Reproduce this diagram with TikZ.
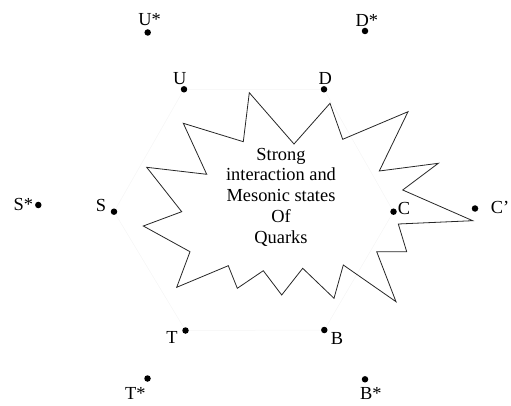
\documentclass[tikz,border=0pt]{standalone}
\usepackage{fontspec}
\setmainfont{Liberation Serif}
\usetikzlibrary{positioning}

\begin{document}
\begin{tikzpicture}[
    x=1pt, y=-1pt,
    font=\fontsize{18.4}{20.7}\selectfont,
    quark/.style={circle, fill=black, inner sep=0pt, minimum size=6.5pt},
    qlabel/.style={anchor=base, inner sep=0pt},
    burst/.style={draw=black!85, line width=0.8pt, line join=miter},
    guide/.style={draw=black!4, line width=0.5pt},
]
\useasboundingbox (0,0) rectangle (511,406);

% quark dots
\foreach \name/\x/\y in {Ustar/147.7/32.5, U/184/89.3, Dstar/365/31, D/324/89.3,
    Sstar/38.3/205, S/114/211.7, C/393.5/211.7, Cp/475/208.5,
    T/185.5/330.5, Tstar/147.5/378.5, B/324.3/330, Bstar/365/379.3} {
    \node[quark] (\name) at (\x,\y) {};
}

% faint inner hexagon
\draw[guide] (U) -- (D) -- (C) -- (B) -- (T) -- (S) -- (U);

% star burst
\draw[burst] (472.7,220.7) -- (398.3,224) -- (406.7,251.7) -- (376.7,251.7)
    -- (396,301.7) -- (343.3,265) -- (334,298.3) -- (302.7,268.3)
    -- (281.7,295) -- (263.3,270.7) -- (237.3,288.3) -- (228.3,265.7)
    -- (176.7,287.3) -- (190,251.7) -- (143.3,226) -- (181.7,211.7)
    -- (146.7,167.3) -- (206.7,174.3) -- (183.3,123.3) -- (243.3,141.7)
    -- (249.3,92.7) -- (294,144) -- (330,103.3) -- (342.7,139.3)
    -- (408,111.7) -- (379.3,171) -- (438.3,163.3) -- (402.7,190) -- cycle;

\node[align=center, inner sep=0pt] (core) at (281,197)
    {Strong\\interaction and\\Mesonic states\\Of\\Quarks};

% labels
\foreach \name/\x/\y/\txt in {lUstar/149.5/25.5/U*, lU/179.7/84.5/U,
    lDstar/366.8/26.5/D*, lD/325.3/84.5/D, lSstar/23.3/210.5/S*,
    lS/101/211.5/S, lC/404/214.5/C, lCp/500/213.5/C’, lT/172/343.5/T,
    lTstar/135.3/399.5/T*, lB/337/344.5/B, lBstar/370.8/399.5/B*} {
    \node[qlabel] (\name) at (\x,\y) {\txt};
}
\end{tikzpicture}
\end{document}
